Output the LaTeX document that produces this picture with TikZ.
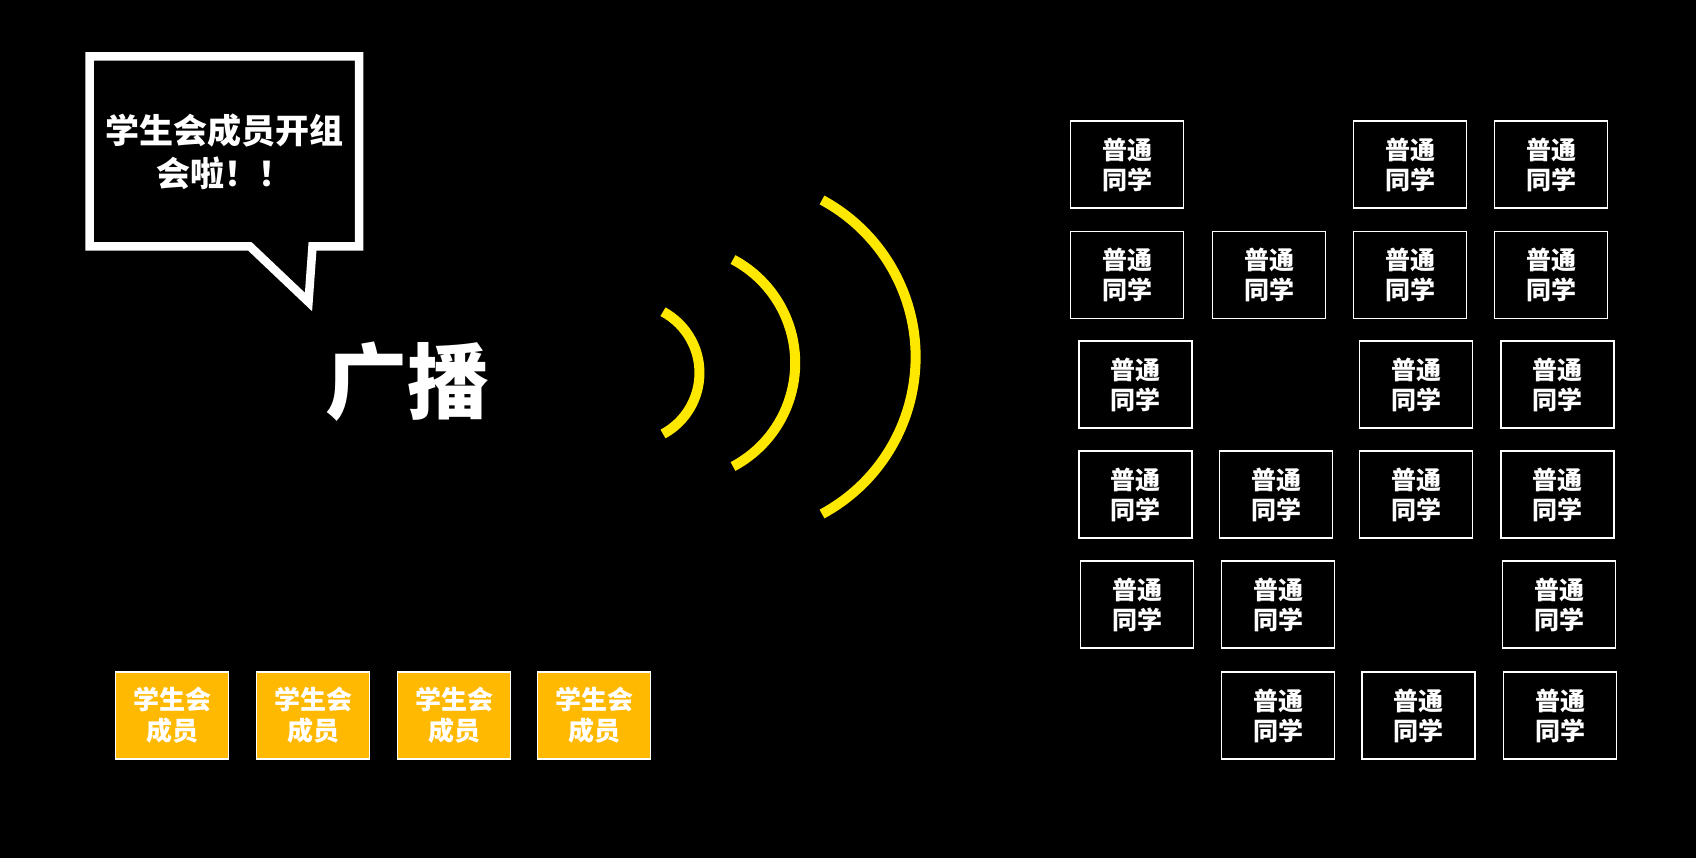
\documentclass[tikz,border=0pt]{standalone}
\usepackage{fontspec}
\setmainfont{Noto Sans CJK SC}
\definecolor{waveyellow}{RGB}{255,232,0}
\definecolor{memberorange}{RGB}{255,185,0}
\begin{document}
\begin{tikzpicture}[x=1pt,y=-1pt,
  studentbox/.style={draw=white, line width=1.8pt, fill=black, text=white,
    minimum width=113pt, minimum height=87pt, inner sep=0pt, align=center,
    font=\fontsize{25}{30}\selectfont\bfseries},
  memberbox/.style={draw=white, line width=1.5pt, fill=memberorange, text=white,
    minimum width=113pt, minimum height=87pt, inner sep=0pt, align=center,
    font=\fontsize{26}{31}\selectfont\bfseries},
  wave/.style={draw=waveyellow, line width=10pt, line cap=butt},
  bubble/.style={draw=white, line width=8.5pt, line join=miter}]
\fill[black] (0,0) rectangle (1696,858);
\useasboundingbox (0,0) rectangle (1696,858);
% speech bubble
\draw[bubble] (89.5,56.5) -- (359,56.5) -- (359,246.5) -- (312.5,246.5)
  -- (308.5,302) -- (250,246.5) -- (89.5,246.5) -- cycle;
\node[text=white, align=center, font=\fontsize{34}{43}\selectfont\bfseries] (say) at (224,152) {学生会成员开组\\会啦！！};
\node[text=white, font=\fontsize{82}{82}\selectfont\bfseries] (broadcast) at (407,382) {广播};
% waves
\coordinate (w1) at (663,434);
\coordinate (w2) at (733,466.5);
\coordinate (w3) at (822,514);
\draw[wave] (w1) arc[start angle=61.6, end angle=-61.6, radius=69.5];
\draw[wave] (w2) arc[start angle=62, end angle=-62, radius=117.2];
\draw[wave] (w3) arc[start angle=61.6, end angle=-61.6, radius=178.5];
% members
\node[memberbox] (m1) at (172,715.5) {学生会\\成员};
\node[memberbox] (m2) at (313,715.5) {学生会\\成员};
\node[memberbox] (m3) at (454,715.5) {学生会\\成员};
\node[memberbox] (m4) at (594,715.5) {学生会\\成员};
% students
\node[studentbox] (r1c1) at (1127,164.5) {普通\\同学};
\node[studentbox] (r1c3) at (1410,164.5) {普通\\同学};
\node[studentbox] (r1c4) at (1551,164.5) {普通\\同学};
\node[studentbox] (r2c1) at (1127,275) {普通\\同学};
\node[studentbox] (r2c2) at (1269,275) {普通\\同学};
\node[studentbox] (r2c3) at (1410,275) {普通\\同学};
\node[studentbox] (r2c4) at (1551,275) {普通\\同学};
\node[studentbox] (r3c1) at (1135.5,384.5) {普通\\同学};
\node[studentbox] (r3c3) at (1416,384.5) {普通\\同学};
\node[studentbox] (r3c4) at (1557.5,384.5) {普通\\同学};
\node[studentbox] (r4c1) at (1135.5,494.5) {普通\\同学};
\node[studentbox] (r4c2) at (1276,494.5) {普通\\同学};
\node[studentbox] (r4c3) at (1416,494.5) {普通\\同学};
\node[studentbox] (r4c4) at (1557.5,494.5) {普通\\同学};
\node[studentbox] (r5c1) at (1137,604.5) {普通\\同学};
\node[studentbox] (r5c2) at (1278,604.5) {普通\\同学};
\node[studentbox] (r5c4) at (1559,604.5) {普通\\同学};
\node[studentbox] (r6c2) at (1278,715.5) {普通\\同学};
\node[studentbox] (r6c3) at (1418.5,715.5) {普通\\同学};
\node[studentbox] (r6c4) at (1560,715.5) {普通\\同学};
\end{tikzpicture}
\end{document}
